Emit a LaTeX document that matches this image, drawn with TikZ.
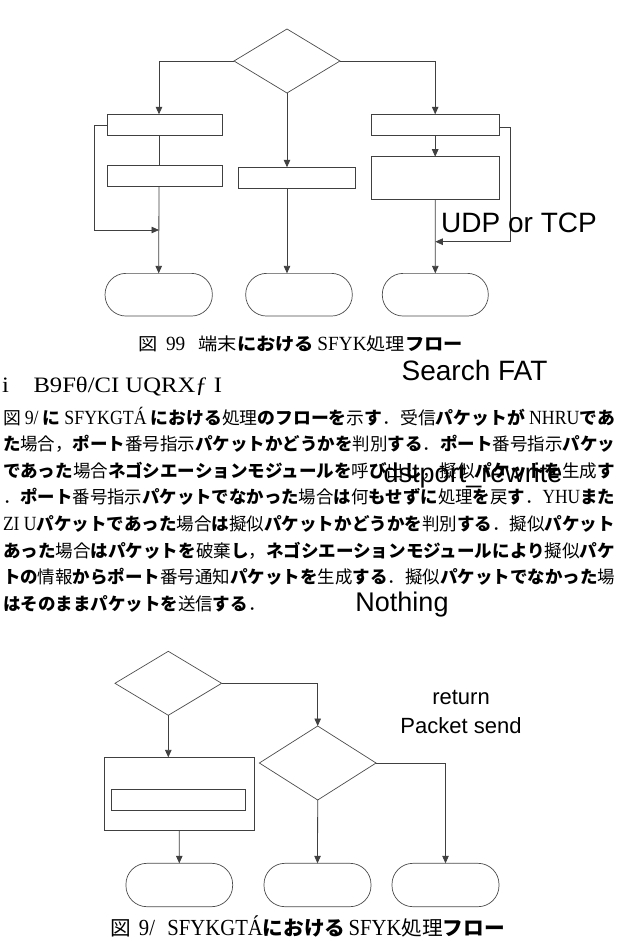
\documentclass[tikz,border=0pt]{standalone}
\usepackage{fontspec}
\usepackage{graphicx}
\usetikzlibrary{shapes.geometric,arrows.meta}
\newfontfamily\jp{Noto Sans CJK JP}
\newfontfamily\gar{Liberation Serif}
\newfontfamily\lab{Liberation Sans}
\newcommand\K[1]{{\bfseries #1}}
\newcommand\G[1]{{\gar\scalebox{1}[1.15]{#1}}}
\begin{document}
\begin{tikzpicture}[x=1pt,y=-1pt,
  ln/.style={draw=black!75,line width=0.8pt},
  arr/.style={ln,-{Triangle[length=7.5pt,width=6.5pt]}},
  procbox/.style={draw=black!75,line width=0.8pt,rectangle,inner sep=0pt,outer sep=0pt},
  term/.style={draw=black!70,line width=0.7pt,rectangle,rounded corners=21pt,inner sep=0pt,outer sep=0pt,minimum height=42.7pt},
  dia/.style={draw=black!70,line width=0.7pt,diamond,inner sep=0pt,outer sep=0pt},
  para/.style={inner sep=0pt,outer sep=0pt,anchor=west,font=\jp\fontsize{17.5}{20}\selectfont},
  capnode/.style={inner sep=0pt,outer sep=0pt,anchor=west,font=\jp\fontsize{20}{24}\selectfont},
  biglab/.style={inner sep=0pt,outer sep=0pt,font=\lab\fontsize{27}{30}\selectfont},
  midlab/.style={inner sep=0pt,outer sep=0pt,font=\lab\fontsize{22}{26}\selectfont}]
\useasboundingbox (0,0) rectangle (620,942);
\fill[white] (0,0) rectangle (620,942);

% ---------- top diagram ----------
\node[dia,minimum width=106pt,minimum height=64pt] (d) at (287,61) {};
\node[procbox,minimum width=115.4pt,minimum height=21.4pt] (lb1) at (165,125) {};
\node[procbox,minimum width=115.4pt,minimum height=21.7pt] (lb2) at (165,175.8) {};
\node[procbox,minimum width=117.4pt,minimum height=21.4pt] (mb) at (297,178) {};
\node[procbox,minimum width=128.3pt,minimum height=21.4pt] (rb1) at (435.2,125) {};
\node[procbox,minimum width=128.3pt,minimum height=42.6pt] (rb2) at (435.2,178) {};
\node[term,minimum width=107.3pt] (t1) at (158.7,294.7) {};
\node[term,minimum width=106.6pt] (t2) at (299,294.7) {};
\node[term,minimum width=106pt] (t3) at (435.3,294.7) {};
\coordinate (jl) at (159,230);
\coordinate (jr) at (435.3,241.7);

\draw[arr] (d.west) -| ([xshift=-6pt]lb1.north);
\draw[ln] ([xshift=-6pt]lb1.south) -- ([xshift=-6pt]lb2.north);
\draw[arr] ([xshift=-6pt]lb2.south) -- (t1.north);
\draw[arr] (lb1.west) -- ++(-13.3,0) |- (jl);
\draw[arr] (d.south) -- (d.south |- mb.north);
\draw[arr] (d.south |- mb.south) -- (d.south |- t2.north);
\draw[arr] (d.east) -| (rb1.north);
\draw[arr] (rb1.south) -- (rb2.north);
\draw[arr] (rb2.south) -- (t3.north);
\draw[arr] ([yshift=-2.3pt]rb1.east) -- ++(10.7,0) |- (jr);

\node[biglab,font=\lab\fontsize{28}{30}\selectfont] (udp) at (519,223) {UDP or TCP};

% ---------- caption / heading ----------
\node[capnode,font=\jp\fontsize{17.5}{20}\selectfont] (cap1) at (138,344) {\resizebox{325pt}{\height}{図\hspace{8pt}\G{99}\hspace{12pt}端末\K{における}\hspace{3pt}\G{SFYK}処理\K{フロー}}};
\node[capnode,font=\gar\fontsize{22}{24}\selectfont] (head) at (2,387) {\resizebox{220pt}{\height}{i\hspace{22pt}B9Fθ/CI UQRXƒ I}};
\node[biglab,font=\lab\fontsize{28}{30}\selectfont] (sfat) at (474.5,370) {Search FAT};

% ---------- paragraph ----------
\node[para] (p1) at (3,417) {\resizebox{612pt}{\height}{図 \G{9/} \K{に} \G{SFYKGTÁ} \K{における}処理\K{のフローを}示\K{す}．受信\K{パケットが} \G{NHRU}\K{であ}}};
\node[para] (p2) at (3,443.7) {\resizebox{612pt}{\height}{\K{た}場合，\K{ポート}番号指示\K{パケットかどうかを}判別\K{する}．\K{ポート}番号指示\K{パケッ}}};
\node[para] (p3) at (3,470.4) {\resizebox{612pt}{\height}{\K{であった}場合\K{ネゴシエーションモジュールを}呼\K{び}出\K{し}，擬似\K{パケットを}生成\K{す}}};
\node[para] (p4) at (3,497.1) {\resizebox{612pt}{\height}{．\K{ポート}番号指示\K{パケットでなかった}場合\K{は}何\K{もせずに}処理\K{を}戻\K{す}．\G{YHU}\K{また}}};
\node[para] (p5) at (3,523.8) {\resizebox{612pt}{\height}{\G{ZI U}\K{パケットであった}場合\K{は}擬似\K{パケットかどうかを}判別\K{する}．擬似\K{パケット}}};
\node[para] (p6) at (3,550.5) {\resizebox{612pt}{\height}{\K{あった}場合\K{はパケットを}破棄\K{し}，\K{ネゴシエーションモジュールにより}擬似\K{パケ}}};
\node[para] (p7) at (3,577.2) {\resizebox{612pt}{\height}{\K{トの}情報\K{からポート}番号通知\K{パケットを}生成\K{する}．擬似\K{パケットでなかった}場}};
\node[para] (p8) at (3,604) {\K{はそのままパケットを}送信\K{する}．};
\node[biglab] (dst) at (473,476) {dstport\_rewrite};
\node[biglab] (noth) at (402,605) {Nothing};

% ---------- bottom diagram ----------
\node[dia,minimum width=106.7pt,minimum height=64pt] (d1) at (168.3,683.3) {};
\node[dia,minimum width=116.7pt,minimum height=74pt] (d2) at (317.7,763) {};
\node[procbox,minimum width=149.7pt,minimum height=72.7pt] (ob) at (179.2,793.7) {};
\node[procbox,minimum width=134pt,minimum height=21.4pt] (ib) at (178.7,800) {};
\node[term,minimum width=106.7pt,minimum height=43.4pt] (t4) at (179.3,885) {};
\node[term,minimum width=107pt,minimum height=43.4pt] (t5) at (317.5,885) {};
\node[term,minimum width=107pt,minimum height=43.4pt] (t6) at (445.5,885) {};

\draw[arr] (d1.east) -| (d2.north);
\draw[arr] (d1.south) -- (d1.south |- ob.north);
\draw[arr] (ob.south) -- (t4.north);
\draw[arr] (d2.south) -- (t5.north);
\draw[arr] (d2.east) -| (t6.north);

\node[midlab] (ret) at (461,697.5) {return};
\node[midlab] (psend) at (461,725.5) {Packet send};

\node[capnode] (cap2) at (110,926) {\resizebox{395pt}{\height}{図\hspace{8pt}\G{9/}\hspace{12pt}\G{SFYKGTÁ}\K{における}\hspace{3pt}\G{SFYK}処理\K{フロー}}};
\end{tikzpicture}
\end{document}
